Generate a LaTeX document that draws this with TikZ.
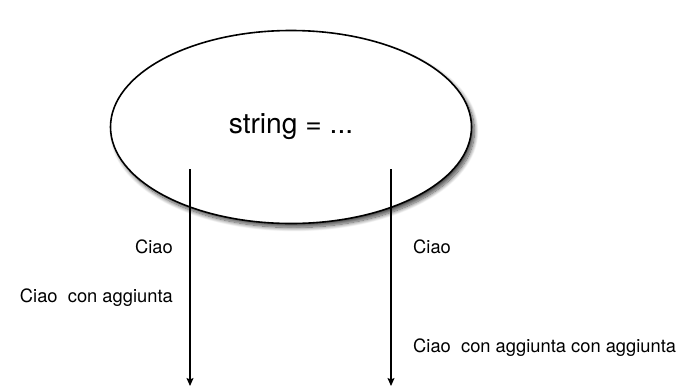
\documentclass[tikz,border=0pt]{standalone}
\usepackage{fontspec}
\setmainfont{TeX Gyre Heros}
\usetikzlibrary{shapes.geometric,shadows.blur,arrows.meta}
\tikzset{
  bubble/.style={ellipse, draw=black, line width=1.6bp, fill=white,
    minimum width=361bp, minimum height=193bp,
    blur shadow={shadow xshift=3bp, shadow yshift=-4bp, shadow blur radius=4bp, shadow blur steps=12, shadow opacity=70},
    font=\fontsize{28.3}{31}\selectfont},
  flow/.style={line width=1.4bp, -{Stealth[length=8bp,width=7bp,inset=1.5bp]}},
  lbl/.style={inner sep=0pt, font=\fontsize{18.4}{21}\selectfont}
}
\begin{document}
\begin{tikzpicture}[x=1bp,y=-1bp]
  \useasboundingbox (0,0) rectangle (689,387);
  \node[bubble] (main) at (291,127) {string = ...};
  % the two outgoing streams
  \coordinate (l0) at (190,169);
  \coordinate (l1) at (190,386);
  \coordinate (r0) at (391,169);
  \coordinate (r1) at (391,386);
  \draw[flow] (l0) -- (l1);
  \draw[flow] (r0) -- (r1);
  % values carried by each stream
  \node[lbl, anchor=east] (lc) at (173,247) {Ciao};
  \node[lbl, anchor=east] (lca) at (173,298) {Ciao\ \ con aggiunta};
  \node[lbl, anchor=west] (rc) at (413,247) {Ciao};
  \node[lbl, anchor=west] (rca) at (413,348) {Ciao\ \ con aggiunta con aggiunta};
\end{tikzpicture}
\end{document}
